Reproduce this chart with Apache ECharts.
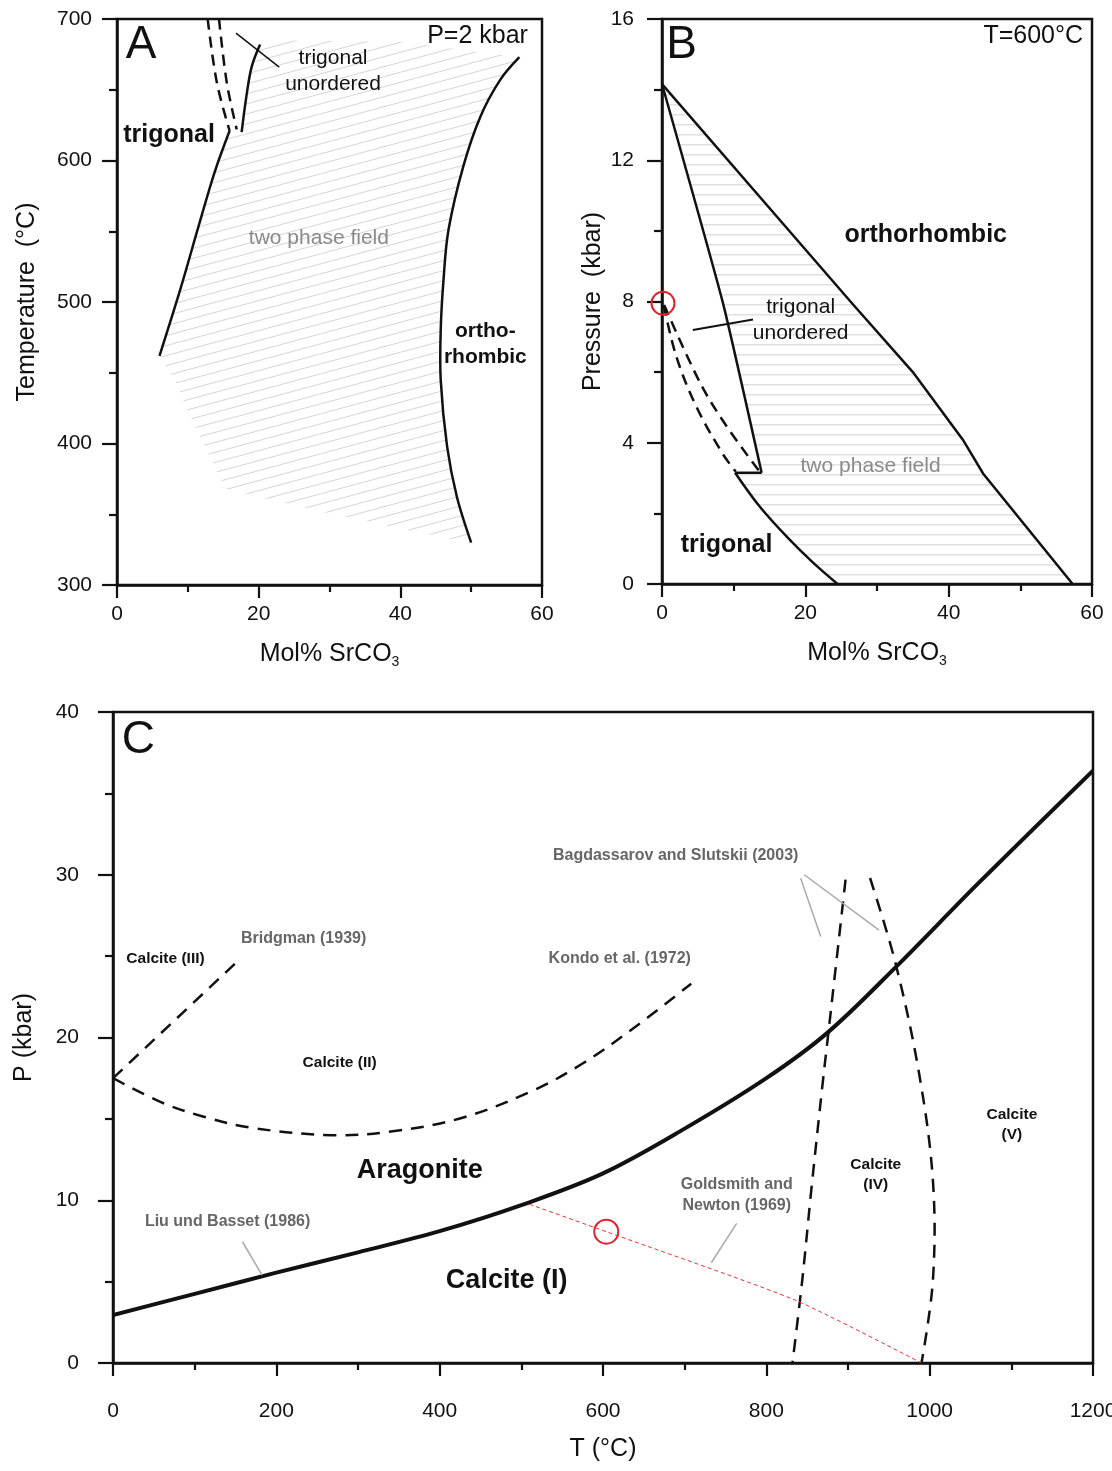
<!DOCTYPE html>
<html>
<head>
<meta charset="utf-8">
<script src="https://cdn.jsdelivr.net/npm/echarts@6/dist/echarts.min.js"></script>
<style>
  html, body { margin: 0; padding: 0; background: #fff; }
  #chart { width: 1112px; height: 1471px; }
</style>
</head>
<body>
<div id="chart"></div>
<script>
// ---- panel A : T vs mol% SrCO3 at P = 2 kbar ----
const trigBoundaryA = [[6.0, 462], [9.0, 510], [11.6, 555], [13.8, 592], [15.9, 621]]
const leftDashA = [[12.8, 700], [14.1, 655], [15.9, 621]]
const rightDashA = [[14.4, 700], [15.5, 655], [16.9, 622]]
const unorderedA = [[20.2, 682], [19.0, 666], [18.2, 643], [17.6, 620]]
const orthoA = [[56.8, 673], [54.1, 657], [51.3, 631], [48.9, 596], [46.8, 551], [46.1, 516],
  [45.7, 480], [45.7, 445], [46.6, 398], [48.0, 362], [50.0, 330]]
const hatchEdgeA = [[50.0, 330], [46.6, 333], [38.1, 342], [29.6, 351], [21.2, 361], [15.3, 368],
  [12.2, 400], [9.9, 424], [8.2, 444], [6.0, 462]]
const hatchTopA = [[20.2, 682], [21, 685], [40, 684], [56.8, 673]]
const pointerA = [[16.8, 690], [22.9, 666]]

// ---- panel B : P vs mol% SrCO3 at T = 600 C ----
const outerB = [[0, 14.16], [26.6, 7.93], [35.0, 6.0], [42.0, 4.08], [44.8, 3.13], [57.3, 0]]
const innerB = [[0, 14.16], [8.5, 7.96], [13.9, 3.15]]
const stepB = [[13.9, 3.15], [10.2, 3.15]]
const lowerB = [[10.2, 3.15], [13.6, 2.2], [17.4, 1.34], [21.0, 0.62], [24.5, 0]]
const leftDashB = [[0.24, 7.9], [2.0, 6.44], [4.8, 5.02], [8.43, 3.7], [10.29, 3.18]]
const rightDashB = [[0.3, 7.9], [5.36, 5.68], [9.07, 4.45], [13.63, 3.18]]
const pointerB = [[4.3, 7.19], [12.7, 7.49]]
const circleB = [[0.14, 7.95]]

// ---- panel C : P-T diagram of CaCO3 ----
const aragCalcC = [[0, 2.95], [100, 4.25], [200, 5.55], [300, 6.8], [400, 8.1], [500, 9.7], [600, 11.65],
  [700, 14.4], [800, 17.5], [875, 20.3], [960, 24.4], [1060, 29.5], [1200, 36.4]]
const bridgmanC = [[0, 17.5], [155, 24.8]]
const kondoC = [[0, 17.5], [60, 16.0], [110, 15.15], [170, 14.45], [268, 14.0], [345, 14.25], [430, 15.1],
  [517, 16.8], [575, 18.4], [630, 20.3], [708, 23.3]]
const bagLeftC = [[897, 29.7], [876, 20.3], [869, 17.2], [855, 10.6], [844, 5.1], [832, 0]]
const bagRightC = [[927, 29.8], [958, 24.6], [987, 17.8], [1004, 11.2], [1004, 5.1], [990, 0]]
const goldsmithC = [[510, 9.75], [605, 8.05], [835, 3.87], [990, 0]]
const liuPtrC = [[158.5, 7.45], [182.5, 5.4]]
const goldPtrC = [[763.7, 8.58], [732.6, 6.16]]
const bagPtr1C = [[842, 29.78], [866.6, 26.2]]
const bagPtr2C = [[846.5, 30.0], [938, 26.6]]
const circleC = [[604, 8.07]]

// annotations: [x, y, text, style]
const textA = [
  [3.4, 681.6, 'A', 'letter'],
  [50.9, 688, 'P=2 kbar', 'cond'],
  [30.5, 663, 'trigonal\nunordered', 'plain'],
  [7.35, 618, 'trigonal', 'phase'],
  [28.5, 545.2, 'two phase field', 'twoPhase'],
  [52.0, 470.3, 'ortho-\nrhombic', 'phaseSm']
]
const textB = [
  [2.75, 15.26, 'B', 'letter'],
  [51.8, 15.52, 'T=600°C', 'cond'],
  [36.8, 9.88, 'orthorhombic', 'phase'],
  [19.35, 7.48, 'trigonal\nunordered', 'plain'],
  [29.1, 3.34, 'two phase field', 'twoPhase'],
  [9.0, 1.1, 'trigonal', 'phase']
]
const textC = [
  [31.2, 38.28, 'C', 'letter'],
  [64.3, 24.82, 'Calcite (III)', 'cSmall'],
  [233.4, 26.05, 'Bridgman (1939)', 'cRef'],
  [620.5, 24.82, 'Kondo et al. (1972)', 'cRef'],
  [689, 31.15, 'Bagdassarov and Slutskii (2003)', 'cRef'],
  [277.5, 18.43, 'Calcite (II)', 'cSmall'],
  [375.5, 11.8, 'Aragonite', 'cBig'],
  [140.3, 8.66, 'Liu und Basset (1986)', 'cRef'],
  [482, 5.04, 'Calcite (I)', 'cBig'],
  [763.8, 10.32, 'Goldsmith and\nNewton (1969)', 'cRef'],
  [934, 11.55, 'Calcite\n(IV)', 'cSmall'],
  [1100.7, 14.62, 'Calcite\n(V)', 'cSmall']
]

const FONT = '"Liberation Sans", Arial, Helvetica, sans-serif'
const INK = '#111'

const textStyles = {
  letter: { fontSize: 46, color: INK },
  cond: { fontSize: 25, color: INK },
  plain: { fontSize: 21, color: INK, lineHeight: 26 },
  phase: { fontSize: 25, fontWeight: 'bold', color: INK },
  phaseSm: { fontSize: 21, fontWeight: 'bold', color: INK, lineHeight: 26 },
  twoPhase: { fontSize: 21, color: '#8a8a8a' },
  cSmall: { fontSize: 15.5, fontWeight: 'bold', color: INK, lineHeight: 20 },
  cRef: { fontSize: 16, fontWeight: 'bold', color: '#666', lineHeight: 21 },
  cBig: { fontSize: 27, fontWeight: 'bold', color: INK }
}

// hatch patterns for the two phase fields
function slantPattern() {
  const c = document.createElement('canvas')
  c.width = 111; c.height = 30
  const ctx = c.getContext('2d')
  ctx.strokeStyle = '#d4d4d4'
  ctx.lineWidth = 1
  for (let y0 = 0; y0 <= 70; y0 += 10) {
    ctx.beginPath()
    ctx.moveTo(0, y0 + 0.5)
    ctx.lineTo(111, y0 - 30 + 0.5)
    ctx.stroke()
  }
  return { image: c, repeat: 'repeat' }
}
function flatPattern() {
  const c = document.createElement('canvas')
  c.width = 20; c.height = 10
  const ctx = c.getContext('2d')
  ctx.fillStyle = '#e0e0e0'
  ctx.fillRect(0, 4, 20, 1.5)
  return { image: c, repeat: 'repeat' }
}

const chart = echarts.init(document.getElementById('chart'))

// boundary curve: one smoothed polyline through the read points
function line(gi, data, style, smooth) {
  const s = Object.assign({ stroke: INK, lineWidth: 2.5, fill: null }, style)
  return {
    type: 'custom', xAxisIndex: gi, yAxisIndex: gi, data, silent: true, z: 5, clip: true,
    renderItem: (params, api) => {
      if (params.dataIndex !== 0) return null
      return {
        type: 'polyline',
        shape: { points: data.map(p => api.coord(p)), smooth: smooth === undefined ? 0.35 : smooth },
        style: s
      }
    }
  }
}

function hatch(gi, poly, pattern) {
  return {
    type: 'custom', xAxisIndex: gi, yAxisIndex: gi, data: poly, silent: true, z: 1,
    renderItem: (params, api) => {
      if (params.dataIndex !== 0) return null
      return {
        type: 'polygon',
        shape: { points: poly.map(p => api.coord(p)) },
        style: { fill: pattern, stroke: null }
      }
    }
  }
}

function texts(gi, items) {
  return {
    type: 'scatter', xAxisIndex: gi, yAxisIndex: gi, symbolSize: 1, silent: true, z: 10,
    itemStyle: { color: 'rgba(0,0,0,0)', opacity: 1 },
    data: items.map(t => ({
      value: [t[0], t[1]],
      label: Object.assign({ show: true, position: 'inside', formatter: t[2], fontFamily: FONT, align: 'center', opacity: 1 }, textStyles[t[3]])
    }))
  }
}

function ring(gi, data, size) {
  return {
    type: 'scatter', xAxisIndex: gi, yAxisIndex: gi, data, symbol: 'circle', symbolSize: size,
    silent: true, z: 12,
    itemStyle: { color: 'rgba(0,0,0,0)', borderColor: '#e4202a', borderWidth: 2, opacity: 1 }
  }
}

const axisLine = { show: true, lineStyle: { color: INK, width: 2.5 } }
const tick = (len) => ({ show: true, inside: false, length: len, lineStyle: { color: INK, width: 2.2 } })
const minor = (len) => ({ show: true, splitNumber: 2, length: len, lineStyle: { color: INK, width: 2.2 } })

function xAxis(gi, min, max, interval, name, nameGap, margin, rich) {
  return {
    type: 'value', gridIndex: gi, min, max, interval, position: 'bottom',
    axisLine, axisTick: tick(13), minorTick: minor(7), splitLine: { show: false },
    axisLabel: { color: INK, fontSize: 21, fontFamily: FONT, margin, formatter: v => String(v) },
    name, nameLocation: 'middle', nameGap,
    nameTextStyle: { color: INK, fontSize: 25, fontFamily: FONT, rich }
  }
}
function yAxis(gi, min, max, interval, name, nameGap, margin) {
  return {
    type: 'value', gridIndex: gi, min, max, interval,
    axisLine, axisTick: tick(15), minorTick: minor(8), splitLine: { show: false },
    axisLabel: { color: INK, fontSize: 21, fontFamily: FONT, margin, formatter: v => String(v) },
    name, nameLocation: 'middle', nameGap, nameRotate: 90,
    nameTextStyle: { color: INK, fontSize: 25, fontFamily: FONT }
  }
}

const subRich = {
  s: { fontSize: 14, color: INK, fontFamily: FONT, padding: [16, 0, 0, 0] }
}

const frame = { show: true, borderColor: INK, borderWidth: 2.5, backgroundColor: 'transparent', outerBoundsMode: 'none', containLabel: false }

const polyA = trigBoundaryA.concat(unorderedA.slice().reverse(), hatchTopA.slice(1), orthoA.slice(1), hatchEdgeA.slice(1))
const polyB = outerB.concat(lowerB.slice().reverse(), [stepB[0]], innerB.slice().reverse().slice(1))

const dashAB = { lineDash: [11, 7] }
const dashC = { lineDash: [13, 9] }
const pointerC = { stroke: '#aaaaaa', lineWidth: 1.5 }

chart.setOption({
  animation: false,
  grid: [
    Object.assign({ left: 117, top: 19, width: 425, height: 566 }, frame),
    Object.assign({ left: 662, top: 19, width: 430, height: 565 }, frame),
    Object.assign({ left: 113, top: 712, width: 980, height: 651 }, frame)
  ],
  xAxis: [
    xAxis(0, 0, 60, 20, 'Mol% SrCO{s|3}', 54, 19, subRich),
    xAxis(1, 0, 60, 20, 'Mol% SrCO{s|3}', 54, 19, subRich),
    xAxis(2, 0, 1200, 200, 'T (°C)', 74, 38)
  ],
  yAxis: [
    yAxis(0, 300, 700, 100, 'Temperature  (°C)', 77, 25),
    yAxis(1, 0, 16, 4, 'Pressure  (kbar)', 56, 28),
    yAxis(2, 0, 40, 10, 'P (kbar)', 76, 34)
  ],
  series: [
    hatch(0, polyA, slantPattern()),
    line(0, trigBoundaryA, {}),
    line(0, leftDashA, dashAB),
    line(0, rightDashA, dashAB),
    line(0, unorderedA, {}),
    line(0, orthoA, {}),
    line(0, pointerA, { lineWidth: 1.5 }, 0),
    texts(0, textA),

    hatch(1, polyB, flatPattern()),
    line(1, outerB, {}, 0),
    line(1, innerB, {}, 0.15),
    line(1, stepB, {}, 0),
    line(1, lowerB, {}),
    line(1, leftDashB, dashAB),
    line(1, rightDashB, dashAB),
    line(1, pointerB, { lineWidth: 2 }, 0),
    ring(1, circleB, 23),
    texts(1, textB),

    line(2, aragCalcC, { lineWidth: 4 }, 0.35),
    line(2, bridgmanC, dashC, 0),
    line(2, kondoC, dashC),
    line(2, bagLeftC, dashC),
    line(2, bagRightC, dashC),
    line(2, goldsmithC, { stroke: '#ee3030', lineWidth: 1, lineDash: [4, 3] }, 0.2),
    line(2, liuPtrC, pointerC, 0),
    line(2, goldPtrC, pointerC, 0),
    line(2, bagPtr1C, pointerC, 0),
    line(2, bagPtr2C, pointerC, 0),
    ring(2, circleC, 24),
    texts(2, textC)
  ]
})
</script>
</body>
</html>
